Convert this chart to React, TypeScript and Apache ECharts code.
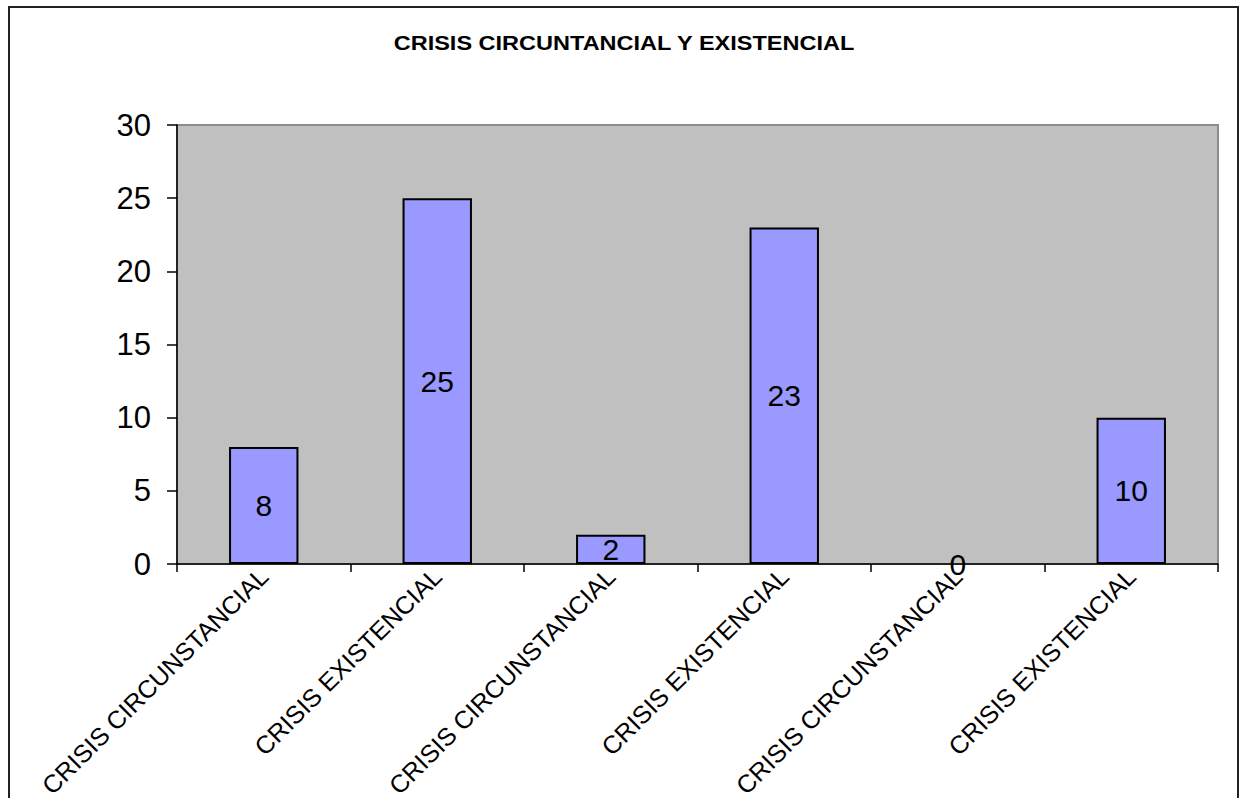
import React, { useEffect, useRef } from "react";
import * as echarts from "echarts";

const chartTitle = "CRISIS CIRCUNTANCIAL Y EXISTENCIAL";
const categories = [
  "CRISIS CIRCUNSTANCIAL",
  "CRISIS EXISTENCIAL",
  "CRISIS CIRCUNSTANCIAL",
  "CRISIS EXISTENCIAL",
  "CRISIS CIRCUNSTANCIAL",
  "CRISIS EXISTENCIAL",
];
const values = [8, 25, 2, 23, 0, 10];
const yTicks = { min: 0, max: 30, interval: 5 };

const FONT = '"Liberation Sans", Arial, sans-serif';

export default function App() {
  const ref = useRef<HTMLDivElement>(null);

  useEffect(() => {
    if (!ref.current) return;
    const chart = echarts.init(ref.current, undefined, { renderer: "svg" });
    // An empty bar (value 0) gets no outline, only its label.
    const barData = values.map((v) =>
      v === 0 ? { value: v, itemStyle: { borderWidth: 0 } } : v
    );
    chart.setOption({
      animation: false,
      backgroundColor: "#ffffff",
      textStyle: { fontFamily: FONT },
      graphic: [
        {
          type: "rect",
          shape: { x: 9, y: 7, width: 1229, height: 820 },
          style: { fill: "none", stroke: "#222222", lineWidth: 2 },
          silent: true,
        },
        {
          type: "text",
          x: 624,
          y: 43,
          scaleX: 1.12,
          style: {
            text: chartTitle,
            font: `bold 21px ${FONT}`,
            fill: "#000000",
            textAlign: "center",
            textVerticalAlign: "middle",
          },
        },
      ],
      grid: {
        left: 177,
        right: 28,
        top: 125,
        bottom: 234,
        outerBoundsMode: "none",
        containLabel: false,
        show: true,
        backgroundColor: "#C0C0C0",
        borderColor: "#8c8c8c",
        borderWidth: 2,
      },
      xAxis: {
        type: "category",
        data: categories,
        boundaryGap: true,
        axisLine: { show: true, lineStyle: { color: "#000000", width: 1.5 } },
        axisTick: {
          show: true,
          length: 8,
          interval: 0,
          lineStyle: { color: "#000000", width: 1.5 },
        },
        axisLabel: {
          interval: 0,
          rotate: 45,
          margin: 8,
          fontSize: 25,
          color: "#000000",
          fontFamily: FONT,
        },
        splitLine: { show: false },
      },
      yAxis: {
        type: "value",
        min: yTicks.min,
        max: yTicks.max,
        interval: yTicks.interval,
        axisLine: { show: true, lineStyle: { color: "#000000", width: 1.5 } },
        axisTick: {
          show: true,
          length: 10,
          lineStyle: { color: "#000000", width: 1.5 },
        },
        axisLabel: {
          margin: 26,
          fontSize: 31,
          color: "#000000",
          fontFamily: FONT,
        },
        splitLine: { show: false },
      },
      series: [
        {
          type: "bar",
          data: barData,
          barWidth: "40%",
          itemStyle: {
            color: "#9999FF",
            borderColor: "#000000",
            borderWidth: 2,
          },
          label: {
            show: true,
            position: "inside",
            fontSize: 30,
            color: "#000000",
            fontFamily: FONT,
          },
        },
      ],
    });
    return () => chart.dispose();
  }, []);

  return (
    <div
      ref={ref}
      style={{ position: "fixed", left: 0, top: 0, width: 1246, height: 798 }}
    />
  );
}
